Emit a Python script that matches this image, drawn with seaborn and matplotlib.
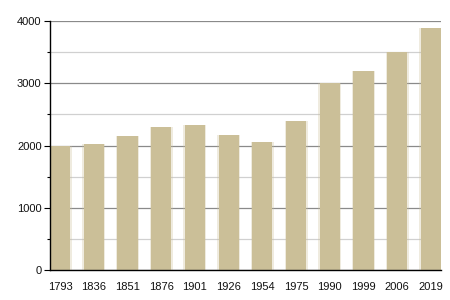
import matplotlib
matplotlib.use("Agg")
import matplotlib.pyplot as plt
import seaborn as sns
import pandas as pd
from matplotlib.ticker import MultipleLocator

years = ["1793", "1836", "1851", "1876", "1901", "1926", "1954", "1975", "1990", "1999", "2006", "2019"]
population = [2000, 2030, 2150, 2290, 2330, 2170, 2060, 2400, 3000, 3200, 3500, 3880]

df = pd.DataFrame({"year": years, "pop": population})

sns.set_theme(style="white")
plt.rcParams["font.family"] = ["Liberation Sans", "DejaVu Sans"]

fig = plt.figure(figsize=(4.5, 3), dpi=100)
ax = fig.add_axes([0.111, 0.1, 0.869, 0.83])

# soft halo to mimic blurred edges
sns.barplot(data=df, x="year", y="pop", color="#CBBF98", width=0.68, alpha=0.3,
            saturation=1, linewidth=0, edgecolor="none", ax=ax, zorder=2)
sns.barplot(data=df, x="year", y="pop", color="#CBBF98", width=0.6,
            saturation=1, linewidth=0, edgecolor="none", ax=ax, zorder=3)

ax.set_xlim(-0.3, 11.3)
ax.set_ylim(0, 4000)
ax.yaxis.set_major_locator(MultipleLocator(1000))
ax.yaxis.set_minor_locator(MultipleLocator(500))
ax.grid(True, which="major", axis="y", color="#8a8a8a", linewidth=0.9, zorder=1)
ax.grid(True, which="minor", axis="y", color="#d0d0d0", linewidth=0.9, zorder=1)
ax.set_axisbelow(True)
ax.set_xlabel("")
ax.set_ylabel("")

for s in ["top", "right"]:
    ax.spines[s].set_visible(False)
for s in ["left", "bottom"]:
    ax.spines[s].set_color("black")
    ax.spines[s].set_linewidth(1.0)
    ax.spines[s].set_zorder(5)

ax.tick_params(axis="y", which="major", left=True, length=4, width=0.8, color="black",
               labelsize=8, pad=2, labelcolor="#111111")
ax.tick_params(axis="y", which="minor", left=True, length=2, width=0.8, color="black")
ax.tick_params(axis="x", bottom=False, labelsize=8, pad=3, labelcolor="#111111")

fig.savefig("out.png", dpi=100)
